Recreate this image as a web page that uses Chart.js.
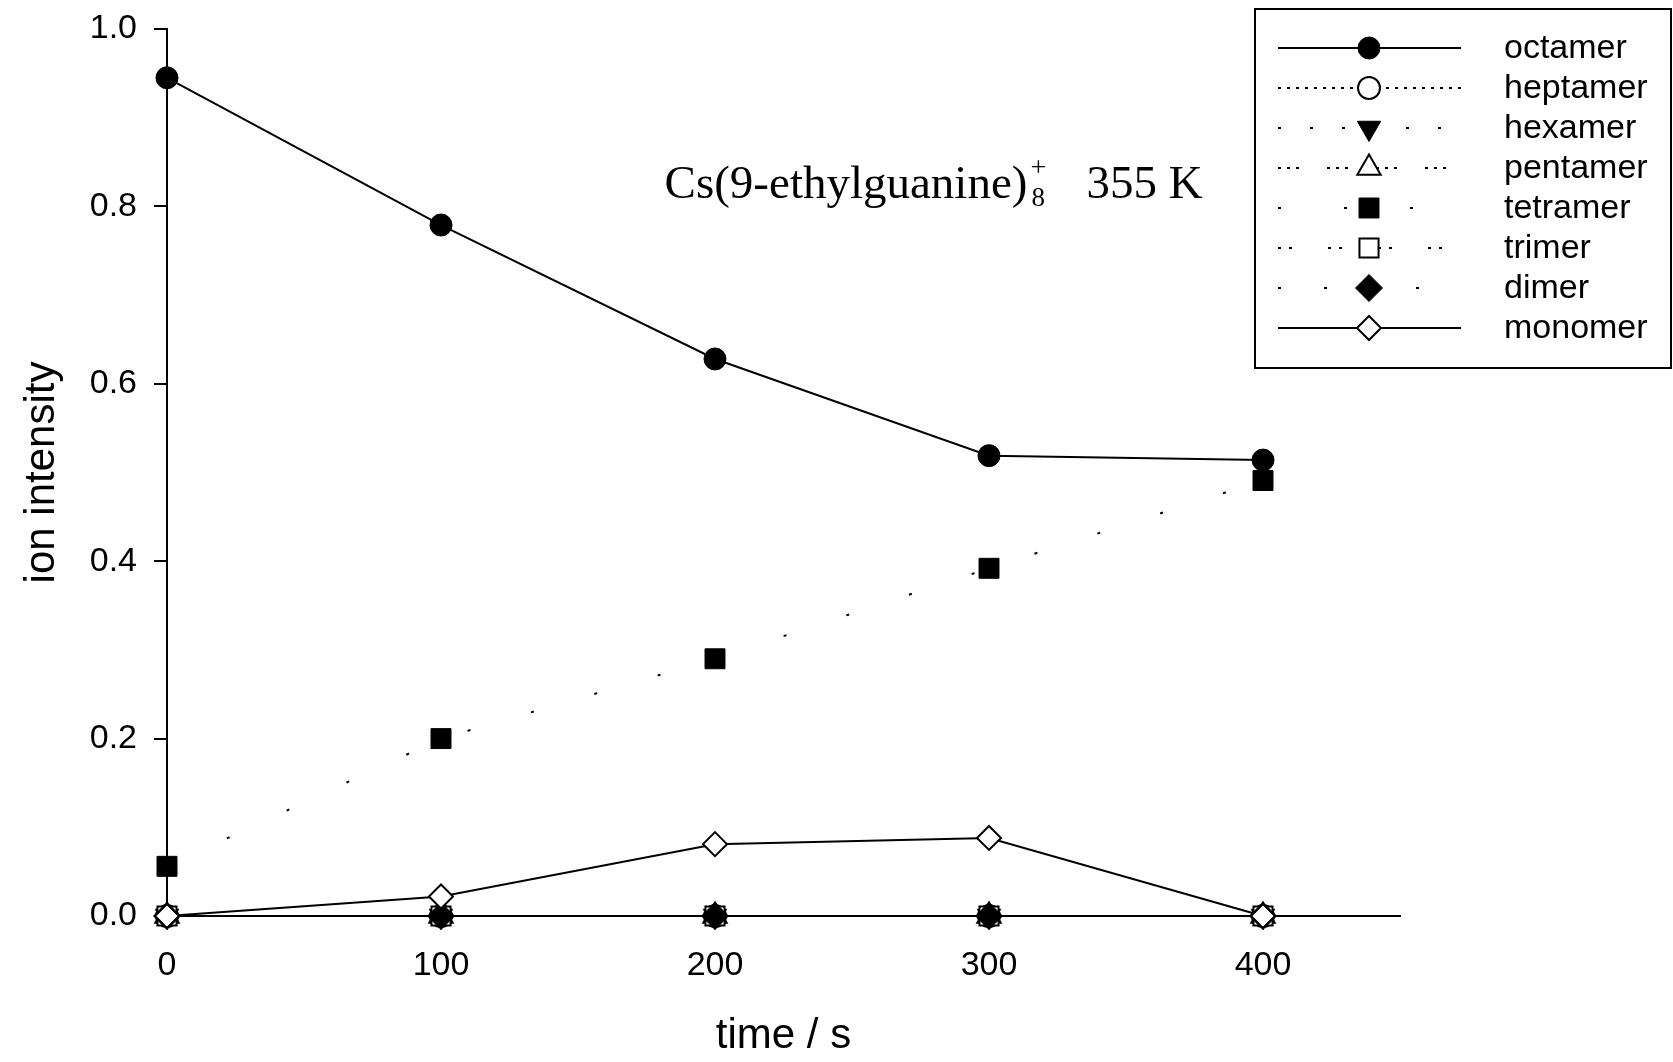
<!DOCTYPE html>
<html>
<head>
<meta charset="utf-8">
<script src="https://cdn.jsdelivr.net/npm/chart.js@4/dist/chart.umd.min.js"></script>
<style>
  html, body { margin: 0; padding: 0; background: #fff; }
  canvas { display: block; }
</style>
</head>
<body>
<canvas id="ionChart" width="1673" height="1062"></canvas>
<script>
// time points (s) and measured intensities
const times = [0, 100, 200, 300, 400];
const octamer = [0.945, 0.779, 0.628, 0.519, 0.514];
const heptamer = [0, 0, 0, 0, 0];
const hexamer = [0, 0, 0, 0, 0];
const pentamer = [0, 0, 0, 0, 0];
const tetramer = [0.056, 0.200, 0.290, 0.392, 0.491];
const trimer = [0, 0, 0, 0, 0];
const dimer = [0, 0, 0, 0, 0];
const monomer = [0, 0.022, 0.081, 0.088, 0];

const seriesNames = ['octamer', 'heptamer', 'hexamer', 'pentamer', 'tetramer', 'trimer', 'dimer', 'monomer'];
const seriesValues = [octamer, heptamer, hexamer, pentamer, tetramer, trimer, dimer, monomer];

const xTicks = [0, 100, 200, 300, 400];
const yTicks = [0, 0.2, 0.4, 0.6, 0.8, 1.0];

const formulaText = 'Cs(9-ethylguanine)';
const formulaSub = '8';
const formulaSup = '+';
const tempText = '355 K';
const xTitle = 'time / s';
const yTitle = 'ion intensity';

// marker + line look for each series
const styles = [
    { pointStyle: 'circle', radius: 11, fill: '#000', dash: [], rotation: 0 },
    { pointStyle: 'circle', radius: 11, fill: '#fff', dash: [3, 6], rotation: 0 },
    { pointStyle: 'triangle', radius: 13.5, fill: '#000', dash: [3, 29], rotation: 180 },
    { pointStyle: 'triangle', radius: 13.5, fill: '#fff', dash: [3, 6, 3, 6, 3, 28], rotation: 0 },
    { pointStyle: 'rect', radius: 14.1, fill: '#000', dash: [3, 63], rotation: 0 },
    { pointStyle: 'rect', radius: 13.5, fill: '#fff', dash: [3, 8, 3, 36], rotation: 0 },
    { pointStyle: 'rectRot', radius: 13.5, fill: '#000', dash: [3, 43], rotation: 0 },
    { pointStyle: 'rectRot', radius: 12, fill: '#fff', dash: [], rotation: 0 }
];

const FONT = '"Liberation Sans", Arial, sans-serif';
const SERIF = '"Liberation Serif", "Times New Roman", serif';

const datasets = seriesNames.map((name, i) => ({
    label: name,
    data: times.map((t, j) => ({ x: t, y: seriesValues[i][j] })),
    borderColor: '#000',
    borderWidth: 2,
    borderDash: styles[i].dash,
    backgroundColor: styles[i].fill,
    pointStyle: styles[i].pointStyle,
    pointRotation: styles[i].rotation,
    pointRadius: styles[i].radius,
    pointHoverRadius: styles[i].radius,
    pointBackgroundColor: styles[i].fill,
    pointBorderColor: '#000',
    pointBorderWidth: styles[i].fill === '#fff' ? 2 : 1,
    tension: 0,
    fill: false,
    clip: false,
    order: seriesNames.length - 1 - i
}));

// box legend on the upper right: line sample with marker, then name
const boxLegend = {
    id: 'boxLegend',
    afterDraw(chart) {
        const ctx = chart.ctx;
        ctx.save();
        ctx.strokeStyle = '#000';
        ctx.lineWidth = 2;
        ctx.setLineDash([]);
        ctx.strokeRect(1255, 9, 416, 359);
        ctx.font = '34px ' + FONT;
        ctx.textBaseline = 'alphabetic';
        ctx.textAlign = 'left';
        seriesNames.forEach((name, i) => {
            const y = 48 + 40 * i;
            const st = styles[i];
            ctx.strokeStyle = '#000';
            ctx.lineWidth = 2;
            ctx.setLineDash(st.dash);
            ctx.beginPath();
            ctx.moveTo(1278, y);
            ctx.lineTo(1461, y);
            ctx.stroke();
            ctx.setLineDash([]);
            ctx.fillStyle = st.fill;
            ctx.lineWidth = st.fill === '#fff' ? 2 : 1;
            Chart.helpers.drawPoint(ctx, {
                pointStyle: st.pointStyle,
                rotation: st.rotation,
                radius: st.radius,
                borderWidth: ctx.lineWidth
            }, 1369, y);
            ctx.fillStyle = '#000';
            ctx.fillText(name, 1504, y + 10);
        });
        ctx.restore();
    }
};

// formula label placed in data coordinates
const formulaLabel = {
    id: 'formulaLabel',
    afterDraw(chart) {
        const { ctx, scales: { x, y } } = chart;
        const px = x.getPixelForValue(181.6);
        const py = y.getPixelForValue(0.809);
        ctx.save();
        ctx.fillStyle = '#000';
        ctx.textAlign = 'left';
        ctx.textBaseline = 'alphabetic';
        ctx.font = '47px ' + SERIF;
        ctx.fillText(formulaText, px, py);
        const w = ctx.measureText(formulaText).width;
        ctx.font = '27px ' + SERIF;
        ctx.fillText(formulaSub, px + w + 4, py + 8);
        ctx.font = '28px ' + SERIF;
        ctx.fillText(formulaSup, px + w + 3, py - 22);
        ctx.font = '47px ' + SERIF;
        ctx.fillText(tempText, px + w + 59, py);
        ctx.restore();
    }
};

try {
    const ctx = document.getElementById('ionChart').getContext('2d');
    new Chart(ctx, {
        type: 'line',
        data: { datasets: datasets },
        plugins: [boxLegend, formulaLabel],
        options: {
            responsive: false,
            animation: false,
            devicePixelRatio: 1,
            layout: { padding: { top: 29, right: 273, left: 0, bottom: 0 } },
            plugins: {
                legend: { display: false },
                tooltip: { enabled: false }
            },
            scales: {
                x: {
                    type: 'linear',
                    min: 0,
                    max: 450,
                    afterBuildTicks: s => { s.ticks = xTicks.map(v => ({ value: v })); },
                    afterFit: s => { s.height = 146; },
                    grid: { display: false, drawTicks: false },
                    border: { display: true, color: '#000', width: 2 },
                    ticks: {
                        color: '#000',
                        padding: 29,
                        maxRotation: 0,
                        font: { family: FONT, size: 34 }
                    },
                    title: {
                        display: true,
                        text: xTitle,
                        color: '#000',
                        padding: { top: 0, bottom: 0 },
                        font: { family: FONT, size: 42 }
                    }
                },
                y: {
                    min: 0,
                    max: 1,
                    afterBuildTicks: s => { s.ticks = yTicks.map(v => ({ value: v })); },
                    afterFit: s => {
                        s.width = 167;
                        s.paddingTop = 0;
                        s.paddingBottom = 0;
                    },
                    grid: {
                        display: true,
                        drawOnChartArea: false,
                        drawTicks: true,
                        tickLength: 13,
                        color: '#000',
                        lineWidth: 2
                    },
                    border: { display: true, color: '#000', width: 2 },
                    ticks: {
                        color: '#000',
                        padding: 17,
                        callback: v => v.toFixed(1),
                        font: { family: FONT, size: 34 }
                    },
                    title: {
                        display: true,
                        text: yTitle,
                        color: '#000',
                        padding: { top: 17, bottom: 0 },
                        font: { family: FONT, size: 42 }
                    }
                }
            }
        }
    });
} catch (error) {
    console.error('Error drawing chart:', error);
}
</script>
</body>
</html>
